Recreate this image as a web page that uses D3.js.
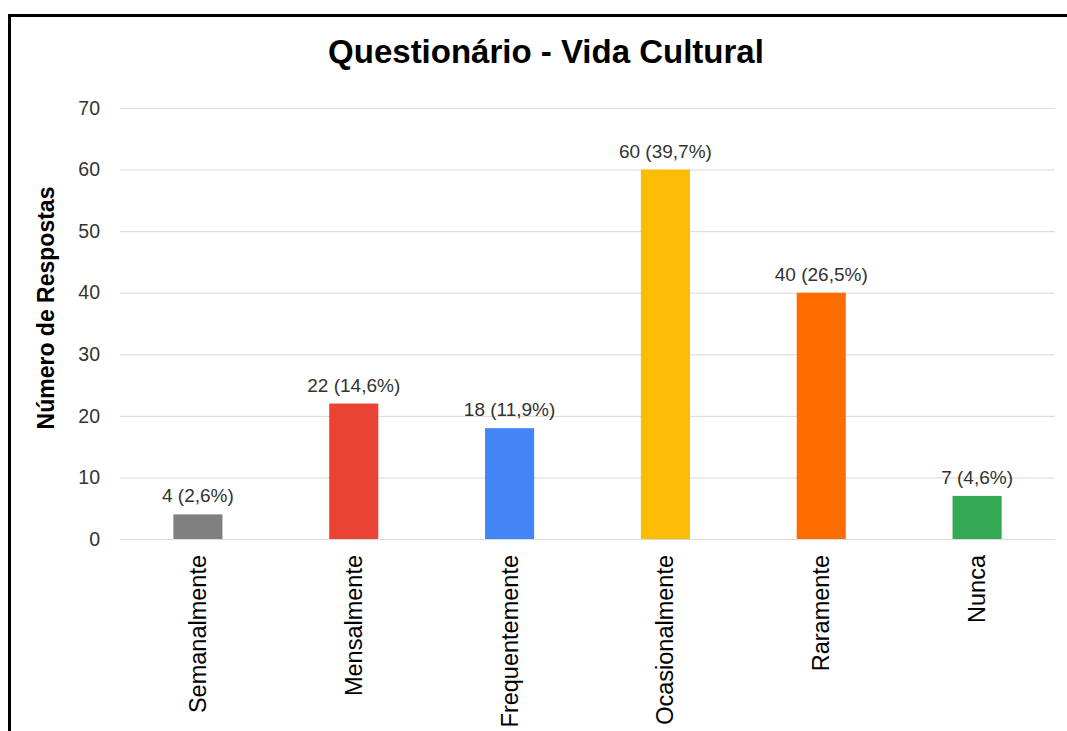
<!DOCTYPE html>
<html>
<head>
<meta charset="utf-8">
<script src="https://cdn.jsdelivr.net/npm/d3@7"></script>
<style>
  html, body { margin: 0; padding: 0; background: #fff; }
  svg { display: block; font-family: "Liberation Sans", Arial, sans-serif; }
</style>
</head>
<body>
<svg id="chart" width="1067" height="731"></svg>
<script>
// Survey answers: how often respondents take part in cultural life
const categories = ["Semanalmente", "Mensalmente", "Frequentemente", "Ocasionalmente", "Raramente", "Nunca"];
const counts = [4, 22, 18, 60, 40, 7];
const percents = ["2,6%", "14,6%", "11,9%", "39,7%", "26,5%", "4,6%"];
const barColors = ["#808080", "#ea4335", "#4285f4", "#fbbc04", "#ff6d01", "#34a853"];
const yTicks = [0, 10, 20, 30, 40, 50, 60, 70];

const svg = d3.select("#chart");

// Outer frame (left and top edges)
svg.append("path")
  .attr("d", "M9.5,731 V15.5 H1067")
  .attr("fill", "none")
  .attr("stroke", "#000")
  .attr("stroke-width", 3);

const plot = { left: 120, right: 1055, top: 108, bottom: 539 };

const x = d3.scaleBand()
  .domain(categories)
  .range([plot.left, plot.right])
  .paddingInner(0.685)
  .paddingOuter(0.3425);

const y = d3.scaleLinear()
  .domain([0, 70])
  .range([plot.bottom, plot.top]);

// Title
svg.append("text")
  .attr("x", 546)
  .attr("y", 63)
  .attr("text-anchor", "middle")
  .attr("font-size", 33)
  .attr("font-weight", "bold")
  .attr("fill", "#000")
  .text("Questionário - Vida Cultural");

// Horizontal gridlines and value-axis labels
const yAxis = d3.axisLeft(y).tickValues(yTicks).tickSize(-(plot.right - plot.left)).tickPadding(20);
const gy = svg.append("g")
  .attr("transform", `translate(${plot.left},0)`)
  .call(yAxis);
gy.select(".domain").remove();
gy.selectAll(".tick line").attr("stroke", "#d9d9d9").attr("stroke-width", 1);
gy.selectAll(".tick text")
  .attr("font-size", 19.5)
  .attr("font-family", "Liberation Sans, Arial, sans-serif")
  .attr("fill", "#333");

// Value-axis title
svg.append("text")
  .attr("transform", "translate(54,308) rotate(-90)")
  .attr("text-anchor", "middle")
  .attr("font-size", 23)
  .attr("font-weight", "bold")
  .attr("fill", "#000")
  .text("Número de Respostas");

// Bars
svg.append("g").selectAll("rect")
  .data(categories)
  .join("rect")
  .attr("x", d => x(d))
  .attr("width", x.bandwidth())
  .attr("y", (d, i) => y(counts[i]))
  .attr("height", (d, i) => y(0) - y(counts[i]))
  .attr("fill", (d, i) => barColors[i]);

// Data labels above each bar
svg.append("g").selectAll("text")
  .data(categories)
  .join("text")
  .attr("x", d => x(d) + x.bandwidth() / 2)
  .attr("y", (d, i) => y(counts[i]) - 12)
  .attr("text-anchor", "middle")
  .attr("font-size", 19)
  .attr("fill", "#333")
  .text((d, i) => `${counts[i]} (${percents[i]})`);

// Category labels, rotated
const xAxis = d3.axisBottom(x).tickSize(0).tickPadding(0);
const gx = svg.append("g")
  .attr("transform", `translate(0,${plot.bottom})`)
  .call(xAxis);
gx.select(".domain").remove();
gx.selectAll(".tick text")
  .attr("font-size", 23.5)
  .attr("font-family", "Liberation Sans, Arial, sans-serif")
  .attr("fill", "#000")
  .attr("text-anchor", "end")
  .attr("dy", null)
  .attr("y", 0)
  .attr("transform", "translate(0,16) rotate(-90)")
  .attr("dominant-baseline", "central");
</script>
</body>
</html>
